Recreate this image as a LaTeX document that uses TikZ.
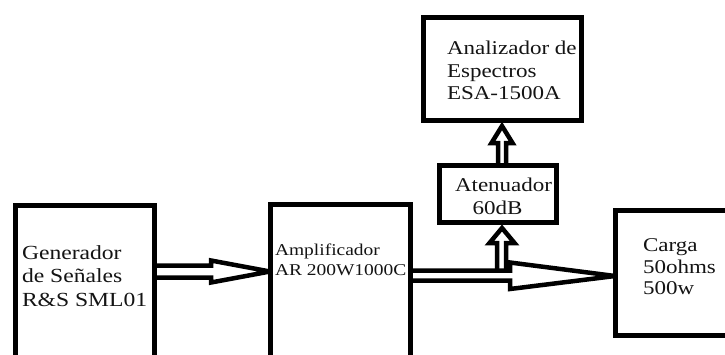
\documentclass[tikz,border=0pt]{standalone}
\usepackage{fontspec}
\setmainfont{Liberation Serif}[FakeStretch=1.18]
\usetikzlibrary{calc}
\begin{document}
\begin{tikzpicture}[x=1pt,y=-1pt,
 box/.style={draw=black, line width=5pt, rectangle, inner sep=0pt, outer sep=0pt, anchor=north west},
 txt/.style={anchor=base west, inner sep=0pt, outer sep=0pt, text=black!92, font=\fontsize{19.5}{22}\selectfont},
 gtxt/.style={txt, font=\fontsize{20}{22}\selectfont},
 smalltxt/.style={txt, font=\fontsize{16.5}{20}\selectfont},
 harrow/.style={draw=black, line width=4.5pt, line join=miter, miter limit=2},
 uarrow/.style={draw=black, line width=4.5pt, line join=miter, miter limit=3}]
\useasboundingbox (0,0) rectangle (725,354);
\clip (0,0) rectangle (725,354);
\fill[white] (0,0) rectangle (725,354);

% boxes
\node[box, minimum width=139pt, minimum height=180pt] (gen) at (15.5,205.5) {};
\node[box, minimum width=140pt, minimum height=180pt] (amp) at (270,204.5) {};
\node[box, minimum width=158pt, minimum height=103pt] (ana) at (423,17) {};
\node[box, minimum width=117pt, minimum height=57pt] (ate) at (439,165) {};
\node[box, minimum width=130pt, minimum height=125pt] (car) at (615,210) {};

% texts
\node[gtxt] (gen1) at (22,259) {Generador};
\node[gtxt] (gen2) at (22,282.5) {de Señales};
\node[gtxt] (gen3) at (22,306) {R\&S SML01};

\node[smalltxt] (amp1) at (275,255) {Amplificador};
\node[smalltxt] (amp2) at (275,275) {AR 200W1000C};

\node[txt] (ana1) at (447,54) {Analizador de};
\node[txt] (ana2) at (447,77) {Espectros};
\node[txt] (ana3) at (447,99) {ESA-1500A};

\node[txt] (ate1) at (455,191) {Atenuador};
\node[txt, anchor=base] (ate2) at (497.5,214) {60dB};

\node[txt] (car1) at (643,251) {Carga};
\node[txt] (car2) at (643,273) {50ohms};
\node[txt] (car3) at (643,294) {500w};

% hollow arrows
\draw[harrow] (gen.east |- 0,265.5) -- (211,265.5) -- (211,260.5)
  -- (amp.west |- 0,271.5) -- (211,282.5) -- (211,277.5) -- (gen.east |- 0,277.5);

\draw[harrow] (amp.east |- 0,270.5) -- (510,270.5) -- (510,262.5)
  -- (car.west |- 0,276) -- (510,289) -- (510,280.5) -- (amp.east |- 0,280.5);

\coordinate (t1) at (502,0 |- ana.south);
\draw[uarrow] (498,0 |- ate.north) -- (498,143) -- (491.5,143)
  -- ([yshift=-6pt]t1) -- (512.5,143) -- (506,143) -- (506,0 |- ate.north);

\coordinate (t2) at (502,0 |- ate.south);
\coordinate (j) at (502,270.5);
\draw[uarrow] (497,0 |- j) -- (497,243) -- (489.5,243)
  -- ([yshift=-6pt]t2) -- (514.5,243) -- (506,243) -- (506,0 |- j);
\end{tikzpicture}
\end{document}
